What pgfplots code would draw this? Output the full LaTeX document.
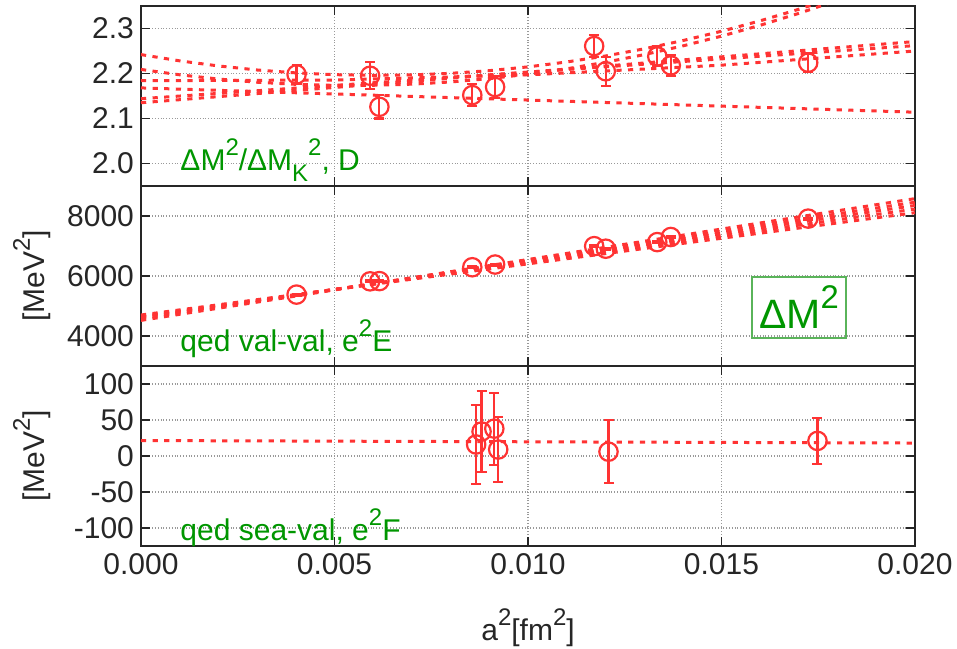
\documentclass[border=0pt]{standalone}
\usepackage{pgfplots}
\pgfplotsset{compat=1.18}
\usepackage{fontspec}
\setmainfont{Liberation Sans}
\usepackage{graphicx}
\definecolor{dr}{RGB}{255,51,51}
\definecolor{dg}{RGB}{0,150,0}
\definecolor{bg}{RGB}{90,180,90}
\newcommand{\sps}[1]{\raisebox{0.5em}{\scalebox{0.8}{#1}}}
\newcommand{\sbs}[1]{\raisebox{-0.35em}{\scalebox{0.8}{#1}}}
\tikzset{lab/.style={anchor=base west, text=dg, font=\fontsize{15}{18}\selectfont, inner sep=0pt}}
\pgfplotsset{
  panel/.style={
    scale only axis, width=387pt, height=90pt,
    xmin=0, xmax=0.02, xtick={0,0.005,0.01,0.015,0.02},
    grid=major,
    major grid style={draw=gray!80, densely dotted, line width=0.6pt},
    axis line style={line width=1.3pt, draw=black!85},
    every tick/.style={black!85, line width=0.9pt},
    major tick length=4.5pt,
    tick align=inside,
    ticklabel style={font=\fontsize{15}{18}\selectfont, text=black!85},
    /pgf/number format/assume math mode=true,
    scaled x ticks=false, scaled y ticks=false,
    every axis y label/.style={at={(axis description cs:-0.1408,0.5)}, rotate=90, anchor=center, font=\fontsize{15}{18}\selectfont, text=black!85},
    every axis x label/.style={at={(axis description cs:0.5,-0.4556)}, anchor=center, font=\fontsize{15}{18}\selectfont, text=black!85},
  },
  fitl/.style={dr, line width=1.5pt, dash pattern=on 2.6pt off 3.2pt},
  pts/.style={dr, only marks, mark=o, mark size=4.6pt, mark options={line width=1.1pt, solid},
     error bars/y dir=both, error bars/y explicit,
     error bars/error bar style={dr, line width=1.1pt, solid},
     error bars/error mark options={rotate=90, mark size=2.5pt, line width=1.1pt, dr}},
}
\begin{document}
\begin{tikzpicture}
\useasboundingbox (-70.5pt,-321pt) rectangle (408pt,3pt);
% ---------- panel 1
\begin{axis}[panel, at={(0pt,0pt)}, anchor=north west,
  ymin=1.95, ymax=2.35, ytick={2.0,2.1,2.2,2.3},
  yticklabel style={/pgf/number format/fixed, /pgf/number format/fixed zerofill, /pgf/number format/precision=1},
  xticklabels={}]
\addplot[fitl] coordinates {(0,2.242)(0.001,2.2281)(0.002,2.2168)(0.003,2.2078)(0.004,2.2014)(0.005,2.1974)(0.006,2.1959)(0.007,2.1969)(0.008,2.2004)(0.009,2.2063)(0.010,2.2147)(0.011,2.2256)(0.012,2.2389)(0.013,2.2548)(0.014,2.2731)(0.015,2.2939)(0.016,2.3171)(0.017,2.3428)(0.018,2.371)};
\addplot[fitl] coordinates {(0,2.209)(0.001,2.1971)(0.002,2.1877)(0.003,2.1806)(0.004,2.1759)(0.005,2.1736)(0.006,2.1738)(0.007,2.1763)(0.008,2.1812)(0.009,2.1886)(0.010,2.1983)(0.011,2.2104)(0.012,2.2250)(0.013,2.2419)(0.014,2.2613)(0.015,2.2830)(0.016,2.3072)(0.017,2.3337)(0.018,2.3627)};
\addplot[fitl] coordinates {(0,2.135)(0.01,2.203)(0.02,2.271)};
\addplot[fitl] coordinates {(0,2.144)(0.01,2.203)(0.02,2.262)};
\addplot[fitl] coordinates {(0,2.184)(0.005,2.1855)(0.01,2.197)(0.015,2.2185)(0.02,2.25)};
\addplot[fitl] coordinates {(0,2.168)(0.02,2.114)};
\addplot[pts] coordinates {
 (0.00402,2.198) +- (0,0.021)
 (0.00592,2.195) +- (0,0.030)
 (0.00616,2.126) +- (0,0.026)
 (0.00856,2.152) +- (0,0.024)
 (0.00915,2.170) +- (0,0.025)
 (0.01171,2.261) +- (0,0.025)
 (0.01201,2.205) +- (0,0.032)
 (0.01334,2.238) +- (0,0.022)
 (0.01369,2.218) +- (0,0.023)
 (0.01724,2.224) +- (0,0.021)};
\node[lab] at (axis cs:0.00101,1.984) {ΔM\sps{2}/ΔM\sbs{K}\sps{2}, D};
\end{axis}
% ---------- panel 2
\begin{axis}[panel, at={(0pt,-90pt)}, anchor=north west,
  ymin=3000, ymax=9000, ytick={4000,6000,8000},
  yticklabel style={/pgf/number format/1000 sep={}},
  ylabel={[MeV\sps{2}]},
  xticklabels={}]
\addplot[fitl] coordinates {(0,4520)(0.02,8580)};
\addplot[fitl] coordinates {(0,4580)(0.02,8460)};
\addplot[fitl] coordinates {(0,4620)(0.02,8350)};
\addplot[fitl] coordinates {(0,4660)(0.02,8230)};
\addplot[fitl] coordinates {(0,4700)(0.02,8110)};
\addplot[pts] coordinates {
 (0.00402,5380) +- (0,30)
 (0.00592,5822) +- (0,30)
 (0.00616,5830) +- (0,30)
 (0.00856,6292) +- (0,30)
 (0.00915,6382) +- (0,30)
 (0.01171,6995) +- (0,30)
 (0.01201,6910) +- (0,30)
 (0.01334,7130) +- (0,30)
 (0.01369,7300) +- (0,30)
 (0.01724,7913) +- (0,30)};
\node[lab] at (axis cs:0.00101,3474) {qed val-val, e\sps{2}E};
\node[draw=bg, line width=0.8pt, text=dg, font=\fontsize{20.5}{24}\selectfont, minimum width=47pt, minimum height=30.5pt, inner sep=0pt] at (axis cs:0.0170,4958) {ΔM\sps{2}};
\end{axis}
% ---------- panel 3
\begin{axis}[panel, at={(0pt,-180pt)}, anchor=north west,
  ymin=-125, ymax=125, ytick={-100,-50,0,50,100},
  ylabel={[MeV\sps{2}]},
  xlabel={a\sps{2}[fm\sps{2}]},
  xticklabel style={/pgf/number format/fixed, /pgf/number format/fixed zerofill, /pgf/number format/precision=3}]
\addplot[fitl] coordinates {(0,21.5)(0.02,18)};
\addplot[pts] coordinates {
 (0.00866,16) +- (0,55)
 (0.00880,34) +- (0,56)
 (0.00913,38) +- (0,50)
 (0.00923,9) +- (0,45)
 (0.01208,6) +- (0,44)
 (0.01748,21) +- (0,32)};
\node[lab] at (axis cs:0.00101,-117) {qed sea-val, e\sps{2}F};
\end{axis}
\end{tikzpicture}
\end{document}
